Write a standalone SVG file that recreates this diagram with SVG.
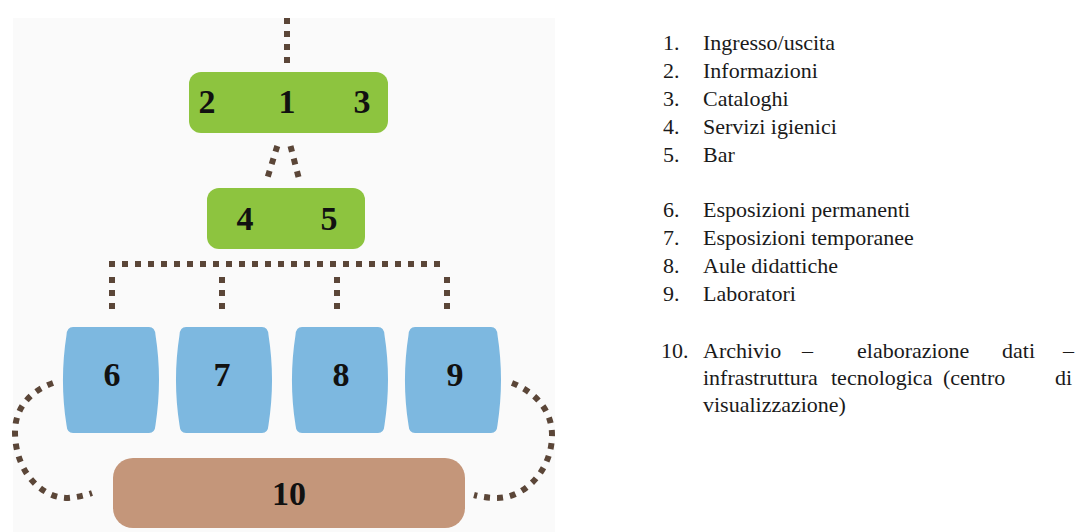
<svg xmlns="http://www.w3.org/2000/svg" xmlns:xlink="http://www.w3.org/1999/xlink" width="1082" height="532" viewBox="0 0 1082 532">
<style>
.num{font-family:"Liberation Serif","Times New Roman",serif;font-weight:bold;font-size:34px;fill:#111;text-anchor:middle}
.leg{font-family:"Liberation Serif","Times New Roman",serif;font-size:22px;fill:#1a1a1a}
.dot{fill:none;stroke:#5b4638;stroke-width:6;stroke-dasharray:6 7}
.green{fill:#8dc43f}
.blue{fill:#7db8e0}
.brown{fill:#c4967a}
</style>
<defs>
<path id="barrel" d="M10,0 H86 Q92,0 92.5,8 C97.2,38 97.2,68 92.5,98 Q92,106 86,106 H10 Q4,106 3.5,98 C-1.2,68 -1.2,38 3.5,8 Q4,0 10,0 Z"/>
</defs>
<rect x="0" y="0" width="1082" height="532" fill="#ffffff"/>
<rect x="13" y="18" width="542" height="514" fill="#fafafa"/>
<g id="connectors">
<path class="dot" d="M287,18 V64"/>
<path class="dot" d="M277.3,146 L267.7,177"/>
<path class="dot" d="M290.5,146 L298.5,177"/>
<path class="dot" d="M109,264 H447"/>
<path class="dot" d="M112,277 V309"/>
<path class="dot" d="M222,277 V309"/>
<path class="dot" d="M337,277 V309"/>
<path class="dot" d="M447,277 V309"/>
<path class="dot" d="M53,383 C28,392 15,410 15,432 C15,470 40,498 68,498 Q80,497 92,493"/>
<path class="dot" d="M512,383 C535,392 552,410 552,435 C552,470 525,498 497,498 Q485,498 474,495"/>
</g>
<g id="node-1-2-3">
<rect class="green" x="189" y="72" width="199" height="61" rx="12"/>
<text class="num" x="207" y="113">2</text>
<text class="num" x="287" y="113">1</text>
<text class="num" x="362" y="113">3</text>
</g>
<g id="node-4-5">
<rect class="green" x="207" y="188" width="158" height="61" rx="12"/>
<text class="num" x="245" y="230">4</text>
<text class="num" x="329" y="230">5</text>
</g>
<g id="node-6">
<use xlink:href="#barrel" href="#barrel" class="blue" x="63" y="327"/>
<text class="num" x="112" y="386">6</text>
</g>
<g id="node-7">
<use xlink:href="#barrel" href="#barrel" class="blue" x="176" y="327"/>
<text class="num" x="222" y="386">7</text>
</g>
<g id="node-8">
<use xlink:href="#barrel" href="#barrel" class="blue" x="292" y="327"/>
<text class="num" x="341" y="386">8</text>
</g>
<g id="node-9">
<use xlink:href="#barrel" href="#barrel" class="blue" x="405" y="327"/>
<text class="num" x="455" y="386">9</text>
</g>
<g id="node-10">
<rect class="brown" x="113" y="458" width="352" height="70" rx="20"/>
<text class="num" x="289" y="505">10</text>
</g>
<g id="legend">
<text class="leg" x="663" y="50">1.</text><text class="leg" x="703" y="50">Ingresso/uscita</text>
<text class="leg" x="663" y="78">2.</text><text class="leg" x="703" y="78">Informazioni</text>
<text class="leg" x="663" y="106">3.</text><text class="leg" x="703" y="106">Cataloghi</text>
<text class="leg" x="663" y="134">4.</text><text class="leg" x="703" y="134">Servizi igienici</text>
<text class="leg" x="663" y="162">5.</text><text class="leg" x="703" y="162">Bar</text>
<text class="leg" x="663" y="217">6.</text><text class="leg" x="703" y="217">Esposizioni permanenti</text>
<text class="leg" x="663" y="245">7.</text><text class="leg" x="703" y="245">Esposizioni temporanee</text>
<text class="leg" x="663" y="273">8.</text><text class="leg" x="703" y="273">Aule didattiche</text>
<text class="leg" x="663" y="301">9.</text><text class="leg" x="703" y="301">Laboratori</text>
<text class="leg" x="661" y="358">10.</text>
<text class="leg" y="358"><tspan x="703">Archivio</tspan><tspan x="802">–</tspan><tspan x="857">elaborazione</tspan><tspan x="1002">dati</tspan><tspan x="1063">–</tspan></text>
<text class="leg" y="385"><tspan x="703">infrastruttura</tspan><tspan x="831">tecnologica</tspan><tspan x="943">(centro</tspan><tspan x="1055">di</tspan></text>
<text class="leg" x="703" y="412">visualizzazione)</text>
</g>
</svg>
